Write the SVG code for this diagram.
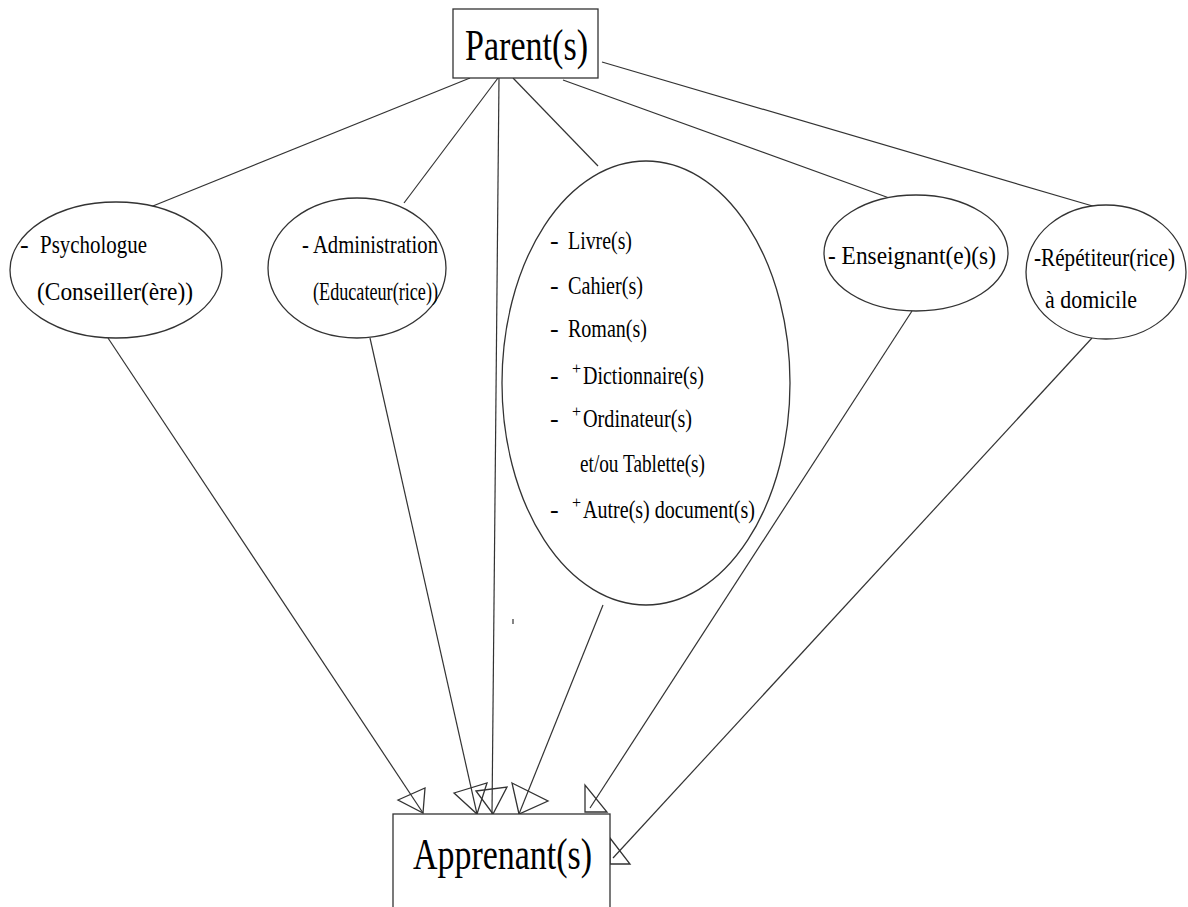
<svg xmlns="http://www.w3.org/2000/svg" width="1188" height="907" viewBox="0 0 1188 907">
  <style>
    .box { fill: #fff; stroke: #333; stroke-width: 1.3; }
    .node { fill: #fff; stroke: #333; stroke-width: 1.3; }
    .link { stroke: #333; stroke-width: 1.2; fill: none; }
    .head { fill: none; stroke: #333; stroke-width: 1.3; stroke-linejoin: miter; }
    .big { font-family: "Liberation Serif", "Times New Roman", serif; font-size: 45px; fill: #000; }
    .lbl { font-family: "Liberation Serif", "Times New Roman", serif; font-size: 26px; fill: #000; }
    .sup { font-family: "Liberation Serif", "Times New Roman", serif; font-size: 16px; fill: #000; }
  </style>
  <rect width="1188" height="907" fill="#fff"/>

  <!-- connectors -->
  <g id="connectors">
    <!-- parent to helpers -->
    <line class="link" x1="470" y1="78" x2="143" y2="210"/>
    <line class="link" x1="498" y1="78" x2="404" y2="203"/>
    <line class="link" x1="513" y1="78" x2="598" y2="166"/>
    <line class="link" x1="563" y1="80" x2="892" y2="199"/>
    <line class="link" x1="602" y1="62" x2="1096" y2="207"/>
    <!-- arrows into the learner -->
    <line class="link" x1="108" y1="338" x2="423" y2="813"/>
    <polygon class="head" points="398,800 425,788 423,813"/>
    <line class="link" x1="370" y1="338" x2="477" y2="814"/>
    <polygon class="head" points="454,793 487,783 477,814"/>
    <line class="link" x1="499" y1="78" x2="492" y2="814"/>
    <polygon class="head" points="476,791 507,787 493,814"/>
    <line class="link" x1="603" y1="605" x2="519" y2="814"/>
    <polygon class="head" points="512,783 548,801 519,814"/>
    <line class="link" x1="912" y1="311" x2="590" y2="808"/>
    <polygon class="head" points="585,785 585,812 607,812"/>
    <line class="link" x1="1092" y1="338" x2="613" y2="858"/>
    <polygon class="head" points="610,838 610,864 630,864"/>
  </g>

  <!-- small stray tick below the resources ellipse -->
  <line class="link" x1="513" y1="619" x2="513" y2="624"/>

  <g id="parent">
    <rect class="box" x="453" y="9" width="145" height="69"/>
    <text class="big" x="465" y="60" textLength="123" lengthAdjust="spacingAndGlyphs">Parent(s)</text>
  </g>

  <g id="psychologue">
    <ellipse class="node" cx="116" cy="270" rx="106" ry="68"/>
    <text class="lbl" x="20" y="253">-</text>
    <text class="lbl" x="40" y="253" textLength="107" lengthAdjust="spacingAndGlyphs">Psychologue</text>
    <text class="lbl" x="37" y="300" textLength="156" lengthAdjust="spacingAndGlyphs">(Conseiller(ère))</text>
  </g>

  <g id="administration">
    <ellipse class="node" cx="357" cy="268" rx="89" ry="70"/>
    <text class="lbl" x="302" y="253" textLength="136" lengthAdjust="spacingAndGlyphs">- Administration</text>
    <text class="lbl" x="313" y="300" textLength="125" lengthAdjust="spacingAndGlyphs">(Educateur(rice))</text>
  </g>

  <g id="ressources">
    <ellipse class="node" cx="646" cy="383" rx="144" ry="222"/>
    <text class="lbl" x="550" y="249">-</text>
    <text class="lbl" x="568" y="249" textLength="64" lengthAdjust="spacingAndGlyphs">Livre(s)</text>
    <text class="lbl" x="550" y="294">-</text>
    <text class="lbl" x="568" y="294" textLength="75" lengthAdjust="spacingAndGlyphs">Cahier(s)</text>
    <text class="lbl" x="550" y="337">-</text>
    <text class="lbl" x="568" y="337" textLength="79" lengthAdjust="spacingAndGlyphs">Roman(s)</text>
    <text class="lbl" x="550" y="384">-</text>
    <text class="sup" x="572" y="374">+</text>
    <text class="lbl" x="583" y="384" textLength="121" lengthAdjust="spacingAndGlyphs">Dictionnaire(s)</text>
    <text class="lbl" x="550" y="427">-</text>
    <text class="sup" x="572" y="417">+</text>
    <text class="lbl" x="583" y="427" textLength="109" lengthAdjust="spacingAndGlyphs">Ordinateur(s)</text>
    <text class="lbl" x="580" y="472" textLength="125" lengthAdjust="spacingAndGlyphs">et/ou Tablette(s)</text>
    <text class="lbl" x="550" y="518">-</text>
    <text class="sup" x="572" y="508">+</text>
    <text class="lbl" x="583" y="518" textLength="172" lengthAdjust="spacingAndGlyphs">Autre(s) document(s)</text>
  </g>

  <g id="enseignant">
    <ellipse class="node" cx="916" cy="253" rx="92" ry="58"/>
    <text class="lbl" x="828" y="264" textLength="168" lengthAdjust="spacingAndGlyphs">- Enseignant(e)(s)</text>
  </g>

  <g id="repetiteur">
    <ellipse class="node" cx="1106" cy="272" rx="80" ry="67"/>
    <text class="lbl" x="1034" y="266" textLength="141" lengthAdjust="spacingAndGlyphs">-Répétiteur(rice)</text>
    <text class="lbl" x="1045" y="308" textLength="92" lengthAdjust="spacingAndGlyphs">à domicile</text>
  </g>

  <g id="apprenant">
    <rect class="box" x="393" y="814" width="217" height="110"/>
    <text class="big" x="413" y="869" textLength="179" lengthAdjust="spacingAndGlyphs">Apprenant(s)</text>
  </g>
</svg>
